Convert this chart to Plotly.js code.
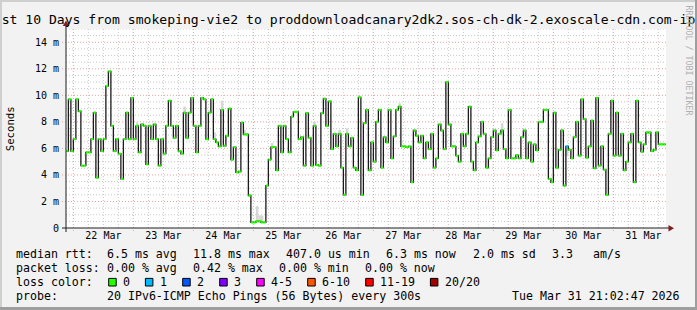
<!DOCTYPE html>
<html><head><meta charset="utf-8">
<script src="https://cdn.plot.ly/plotly-3.0.1.min.js"></script>
<style>
html,body{margin:0;padding:0;background:#f2f2f2;}
#wrap{position:relative;width:697px;height:310px;overflow:hidden;}
#chart{width:697px;height:310px;}
.bd{position:absolute;pointer-events:none;}
</style></head><body>
<div id="wrap"><div id="chart"></div>
<div class="bd" style="left:0;top:0;width:697px;height:2px;background:#cfcfcf"></div>
<div class="bd" style="left:0;top:0;width:2px;height:310px;background:#cfcfcf"></div>
<div class="bd" style="left:695px;top:0;width:2px;height:310px;background:#9e9e9e"></div>
<div class="bd" style="left:0;top:307px;width:697px;height:3px;background:#9e9e9e"></div>
</div>
<script>
// ---- data ----
const rttMedian = [
 5.8, 9.7, 5.8, 6.7, 9.7, 8.8, 4.7, 4.7, 5.7, 5.7,
 6.7, 8.7, 3.8, 6.7, 5.8, 6.7, 10.7, 11.8, 7.7, 5.8,
 6.7, 5.6, 3.7, 6.7, 8.7, 6.7, 9.8, 6.7, 7.7, 5.7,
 7.8, 7.7, 4.8, 7.7, 6.7, 7.8, 6.7, 4.7, 6.7, 5.6,
 7.7, 9.6, 7.7, 6.8, 7.7, 5.8, 5.6, 8.7, 6.8, 8.7,
 9.8, 7.7, 5.7, 7.7, 9.8, 9.7, 6.7, 8.7, 9.7, 6.7,
 6.45, 6.15, 8.9, 6.2, 6.95, 9.0, 5.15, 6.1, 4.2, 4.25,
 7.95, 7.05, 7.05, 2.45, 0.42, 0.42, 0.5, 0.5, 0.42, 0.42,
 3.2, 5.15, 6.1, 6.1, 4.35, 7.7, 5.7, 7.7, 6.7, 5.7,
 8.4, 8.75, 8.75, 6.7, 6.85, 4.7, 8.65, 6.8, 4.7, 7.7,
 4.75, 4.7, 8.65, 9.75, 7.7, 9.55, 5.95, 7.1, 6.15, 7.1,
 4.55, 2.5, 7.1, 6.15, 6.8, 4.55, 4.35, 9.85, 2.5, 7.9,
 8.9, 4.35, 6.45, 5.0, 8.0, 8.9, 4.55, 6.85, 6.45, 8.9,
 5.25, 6.9, 8.9, 9.15, 6.15, 6.15, 6.1, 6.15, 3.45, 7.35,
 6.95, 6.45, 6.95, 5.25, 6.45, 5.95, 7.1, 4.55, 5.25, 7.8,
 7.35, 5.95, 11.0, 7.8, 6.15, 6.15, 5.45, 5.0, 7.1, 6.15,
 7.1, 9.15, 5.0, 4.35, 6.45, 6.9, 8.0, 7.1, 4.55, 5.25,
 6.85, 7.35, 5.85, 7.1, 7.35, 5.95, 5.25, 8.9, 5.25, 5.25,
 5.5, 5.25, 6.85, 7.35, 5.25, 6.45, 5.0, 6.3, 5.85, 8.0,
 8.0, 8.9, 8.9, 3.7, 3.45, 8.7, 4.55, 5.9, 7.35, 3.2,
 6.15, 5.9, 5.25, 6.85, 8.0, 5.45, 9.7, 8.2, 5.3, 6.15,
 8.1, 4.5, 9.8, 4.7, 6.15, 4.4, 2.5, 7.1, 9.6, 5.45,
 8.7, 5.45, 7.1, 4.35, 5.0, 6.45, 7.1, 3.45, 9.6, 6.45,
 5.75, 6.3, 7.2, 7.2, 5.8, 5.9, 7.2, 6.3, 6.3, 6.3,
 6.3
];
// smoke patches: [hour index, low ms, high ms]
const smokeIdx  = [28, 47, 59, 62, 71, 76, 77, 78, 82, 99, 109, 112, 133, 174, 183, 200];
const smokeLow  = [7.7, 8.7, 6.7, 8.9, 7.0, 0.5, 0.5, 0.42, 6.1, 7.7, 7.1, 7.1, 9.15, 7.35, 6.9, 5.4];
const smokeHigh = [7.95, 9.15, 7.2, 9.6, 7.4, 1.65, 0.95, 0.95, 6.4, 8.0, 7.4, 7.5, 9.4, 7.9, 7.4, 6.15];
// hours with packet loss: index and loss bucket
const lossIdx = [200];
const lossBucket = [1];
const lossColors = ['#26ff00','#00b8ff','#0059ff','#7e00ff','#ff00ff','#ff5500','#ff0000','#a10000'];
const lossLabels = ['0','1','2','3','4-5','6-10','11-19','20/20'];
const dayLabels = ['22 Mar','23 Mar','24 Mar','25 Mar','26 Mar','27 Mar','28 Mar','29 Mar','30 Mar','31 Mar'];
const yTickVals = [0,2,4,6,8,10,12,14];
const yTickText = ['0','2 m','4 m','6 m','8 m','10 m','12 m','14 m'];

const seriesStart = Date.UTC(2026,2,21,21,0,0);
const stepMs = 3600000;
const rangeStart = Date.UTC(2026,2,21,21,2,47);
const rangeEnd = Date.UTC(2026,2,31,21,2,47);

// ---- geometry helpers (layout only) ----
const L = 66, T = 29, W = 600, H = 199;
const px2x = p => (p - L) / W;
const px2y = p => (T + H - p) / H;
const MONO = 'DejaVu Sans Mono, monospace';

const tAt = i => seriesStart + i * stepMs;
const times = rttMedian.map((v, i) => tAt(i));

// black median step line
const lx = times.concat([rangeEnd]);
const ly = rttMedian.concat([rttMedian[rttMedian.length - 1]]);

// coloured horizontal segments
function segs(filter) {
  const x = [], y = [];
  rttMedian.forEach((v, i) => {
    if (!filter(i)) return;
    x.push(tAt(i), Math.min(tAt(i + 1), rangeEnd), null);
    y.push(v, v, null);
  });
  return {x, y};
}
const lossOf = i => { const k = lossIdx.indexOf(i); return k < 0 ? 0 : lossBucket[k]; };

const traces = [];
traces.push({
  type: 'bar',
  x: smokeIdx.map(i => tAt(i) + stepMs / 2),
  base: smokeLow,
  y: smokeHigh.map((h, k) => h - smokeLow[k]),
  width: smokeIdx.map(() => stepMs),
  marker: {color: '#d6d6d6', line: {width: 0}},
  hoverinfo: 'skip'
});
traces.push({
  type: 'scatter', mode: 'lines', x: lx, y: ly,
  line: {shape: 'hv', color: '#1a1a1a', width: 1.3}, hoverinfo: 'skip'
});
for (let b = 0; b < lossColors.length; b++) {
  const s = segs(i => lossOf(i) === b);
  if (!s.x.length) continue;
  traces.push({type: 'scatter', mode: 'lines', x: s.x, y: s.y,
    line: {color: lossColors[b], width: 2.2}, hoverinfo: 'skip'});
}

// ---- grid shapes ----
const shapes = [];
const GRID = '#c9c9c9', MGRID = '#eca2a2', DOTS = '1px,2px';
for (let t = Date.UTC(2026,2,22,0,0,0); t < rangeEnd; t += 6 * stepMs) {
  const major = new Date(t).getUTCHours() === 0;
  shapes.push({type: 'line', layer: 'below', xref: 'x', yref: 'paper', x0: t, x1: t,
    y0: major ? px2y(231) : 0, y1: 1,
    line: {color: major ? MGRID : GRID, width: 1, dash: DOTS}});
}
for (let v = 0.5; v <= 15.001; v += 0.5) {
  const major = Math.abs(v / 2 - Math.round(v / 2)) < 1e-6;
  shapes.push({type: 'line', layer: 'below', xref: 'paper', yref: 'y',
    x0: major ? px2x(62) : 0, x1: 1, y0: v, y1: v,
    line: {color: major ? MGRID : GRID, width: 1, dash: DOTS}});
}
// axes + arrows
shapes.push({type: 'line', xref: 'paper', yref: 'paper', x0: px2x(62), x1: px2x(669), y0: 0, y1: 0,
  line: {color: '#1f1f1f', width: 1}});
shapes.push({type: 'line', xref: 'paper', yref: 'paper', x0: 0, x1: 0, y0: px2y(232), y1: px2y(25),
  line: {color: '#1f1f1f', width: 1}});
shapes.push({type: 'path', xref: 'paper', yref: 'paper',
  path: `M${px2x(668.5)},${px2y(225)} L${px2x(668.5)},${px2y(231.5)} L${px2x(674)},${px2y(228.2)} Z`,
  fillcolor: '#801f1f', line: {width: 0}});
shapes.push({type: 'path', xref: 'paper', yref: 'paper',
  path: `M${px2x(62.8)},${px2y(26)} L${px2x(69.2)},${px2y(26)} L${px2x(66)},${px2y(20.5)} Z`,
  fillcolor: '#801f1f', line: {width: 0}});

// ---- text ----
const annotations = [];
function txt(x, y, s, o) {
  o = o || {};
  annotations.push(Object.assign({
    xref: 'paper', yref: 'paper', x: px2x(x), y: px2y(y), text: s, showarrow: false,
    xanchor: 'left', yanchor: 'middle', borderpad: 0,
    font: {family: MONO, size: 11.6, color: '#000'}
  }, o));
}
txt(10.8, 128.5, 'Seconds', {xanchor: 'center', textangle: -90, font: {family: MONO, size: 10.7, color: '#000'}});
txt(688.5, 60, 'RRDTOOL / TOBI OETIKER', {xanchor: 'center', textangle: 90, font: {family: MONO, size: 8.3, color: '#b0b0b0'}});

const y1 = 254, y2 = 268, y3 = 282, y4 = 295.7;
[[16,'median rtt:'],[107.3,'6.5 ms avg'],[193.3,'11.8 ms max'],[286,'407.0 us min'],
 [386,'6.3 ms now'],[472.7,'2.0 ms sd'],[551.7,'3.3'],[593.3,'am/s']].forEach(c => txt(c[0]-1, y1, c[1]));
[[16,'packet loss:'],[107.3,'0.00 % avg'],[193.3,'0.42 % max'],[279.3,'0.00 % min'],
 [365.3,'0.00 % now']].forEach(c => txt(c[0]-1, y2, c[1]));
txt(15, y3, 'loss color:');
const legX = [123.3, 160, 197.3, 234.3, 271.3, 322.3, 380.3, 445];
lossLabels.forEach((lab, k) => {
  txt(legX[k]-1, y3, lab);
  const bx = legX[k] - 14.6;
  shapes.push({type: 'rect', xref: 'paper', yref: 'paper',
    x0: px2x(bx), x1: px2x(bx + 7.5), y0: px2y(286), y1: px2y(278.4),
    fillcolor: lossColors[k], line: {color: '#000', width: 1}});
});
txt(15, y4, 'probe:');
txt(106.3, y4, '20 IPv6-ICMP Echo Pings (56 Bytes) every 300s');
txt(680.5, y4, 'Tue Mar 31 21:02:47 2026', {xanchor: 'right'});

const tickNoon = dayLabels.map((d, k) => Date.UTC(2026,2,22 + k,12,0,0));

const layout = {
  width: 697, height: 310,
  margin: {l: L, r: 697 - L - W, t: T, b: 310 - T - H, pad: 0},
  paper_bgcolor: '#f2f2f2', plot_bgcolor: '#ffffff',
  showlegend: false, barmode: 'overlay',
  title: {text: 'Last 10 Days from smokeping-vie2 to proddownloadcanary2dk2.sos-ch-dk-2.exoscale-cdn.com-ipv6',
    font: {family: MONO, size: 13.1, color: '#000'}, xref: 'container', x: 0.5, xanchor: 'center',
    yref: 'container', y: 1 - 19 / 310, yanchor: 'middle'},
  xaxis: {type: 'date', range: [rangeStart, rangeEnd], showgrid: false, zeroline: false, showline: false,
    tickmode: 'array', tickvals: tickNoon, ticktext: dayLabels, ticks: '',
    tickfont: {family: MONO, size: 10, color: '#000'}, fixedrange: true},
  yaxis: {range: [0, 15], showgrid: false, zeroline: false, showline: false,
    tickmode: 'array', tickvals: yTickVals, ticktext: yTickText,
    ticks: 'outside', ticklen: 4, tickcolor: 'rgba(0,0,0,0)',
    tickfont: {family: MONO, size: 10, color: '#000'}, fixedrange: true},
  shapes: shapes, annotations: annotations
};
Plotly.newPlot('chart', traces, layout, {displayModeBar: false, staticPlot: true});
</script>
</body></html>
